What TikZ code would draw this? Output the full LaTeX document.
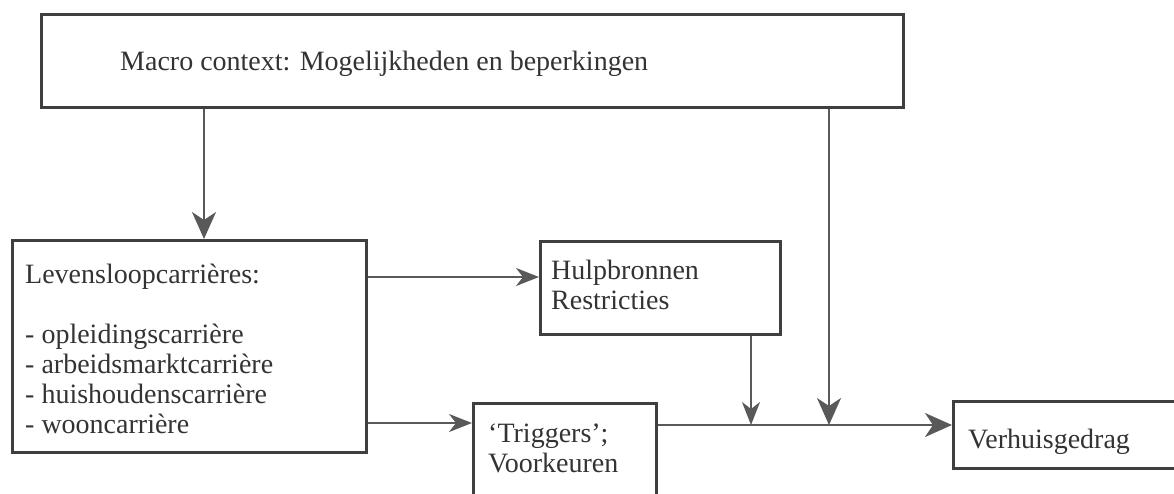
\documentclass[tikz,border=0pt]{standalone}
\usepackage{fontspec}
\setmainfont{Liberation Serif}
\usetikzlibrary{arrows.meta}
\definecolor{boxline}{HTML}{3F3F3F}
\definecolor{arrline}{HTML}{595959}
\definecolor{txt}{HTML}{333333}
\begin{document}
\begin{tikzpicture}[x=1pt,y=-1pt,
  box/.style={draw=boxline, line width=3pt, rectangle, inner sep=0pt, anchor=north west},
  lbl/.style={anchor=base west, inner sep=0pt, text=txt, font=\fontsize{28}{30}\selectfont},
  conn/.style={draw=arrline, line width=2.4pt, -{Stealth[length=27pt, width=24pt, inset=8pt]}},
  connsmall/.style={draw=arrline, line width=2pt, -{Stealth[length=23pt, width=18pt, inset=7pt]}}]
\useasboundingbox (0,0) rectangle (1174,493);
% boxes
\node[box, minimum width=862pt, minimum height=93pt] (macro) at (40,13) {};
\node[box, minimum width=354pt, minimum height=212pt] (leven) at (11,239) {};
\node[box, minimum width=240pt, minimum height=93pt] (hulp) at (539,240) {};
\node[box, minimum width=183pt, minimum height=110pt] (trig) at (472,402) {};
\node[box, minimum width=240pt, minimum height=67pt] (verh) at (952,400) {};
% texts
\node[lbl] (tmacro) at (120,70) {Macro context: Mogelijkheden en beperkingen};
\node[lbl] (tleven) at (25,283) {Levensloopcarrières:};
\node[lbl] (tl1) at (25,343) {- opleidingscarrière};
\node[lbl] (tl2) at (25,373) {- arbeidsmarktcarrière};
\node[lbl] (tl3) at (25,403) {- huishoudenscarrière};
\node[lbl] (tl4) at (25,433) {- wooncarrière};
\node[lbl] (thulp1) at (551,279) {Hulpbronnen};
\node[lbl] (thulp2) at (551,309) {Restricties};
\node[lbl] (ttrig1) at (488,442) {‘Triggers’;};
\node[lbl] (ttrig2) at (488,472) {Voorkeuren};
\node[lbl] (tverh) at (968,448) {Verhuisgedrag};
% junction coordinates on the main line
\coordinate (j1) at (751,425);
\coordinate (j2) at (829,425);
% connectors
\draw[conn] (macro.south -| 204,0) -- (leven.north -| 204,0);
\draw[connsmall] (leven.east |- 0,277) -- (hulp.west |- 0,277);
\draw[connsmall] (leven.east |- 0,423) -- (trig.west |- 0,423);
\draw[connsmall] (hulp.south -| j1) -- (j1);
\draw[conn] (macro.south -| j2) -- (j2);
\draw[conn] (trig.east |- j1) -- (verh.west |- j1);
\end{tikzpicture}
\end{document}
